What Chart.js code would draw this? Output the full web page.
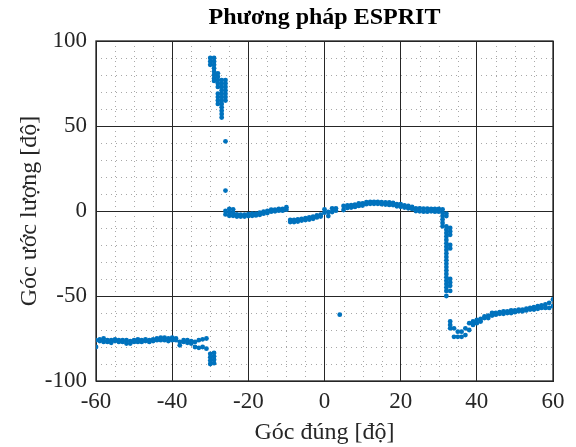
<!DOCTYPE html>
<html>
<head>
<meta charset="utf-8">
<script src="https://cdn.jsdelivr.net/npm/chart.js@4"></script>
<style>
  html, body { margin: 0; padding: 0; background: #fff; }
  #wrap { width: 576px; height: 447px; }
</style>
</head>
<body>
<div id="wrap"><canvas id="espritChart" width="576" height="447"></canvas></div>
<script>
// true angle (x) for each test position
const angles = [
  -60,-59,-58,-57,-56,-55,-54,-53,-52,-51,-50,-49,-48,-47,-46,-45,-44,-43,-42,-41,
  -40,-39,-38,-37,-36,-35,-34,-33,-32,-31,-30,-29,-28,-27,-26,-25,-24,-23,-22,-21,
  -20,-19,-18,-17,-16,-15,-14,-13,-12,-11,-10,-9,-8,-7,-6,-5,-4,-3,-2,-1,
  0,1,2,3,4,5,6,7,8,9,10,11,12,13,14,15,16,17,18,19,
  20,21,22,23,24,25,26,27,28,29,30,31,32,33,34,35,36,37,38,39,
  40,41,42,43,44,45,46,47,48,49,50,51,52,53,54,55,56,57,58,59,60
]

// estimated angle, run 1 (lower cluster) and run 2 (upper cluster)
const estRun1 = [
  -80,-76.5,-77,-77,-77.5,-76.5,-77,-77,-78,-78,-77,-77,-77,-76.5,-77,-76.5,-76,-76,-76,-76.5,
  -76,-76,-79,-77,-77.5,-78,-80,-80.5,-80,-81,
  -90,-89.5,63,55,-2,
  -2.8,-2.8,-3.3,-3.3,-3.3,-3,-2.8,-2.6,-2.2,-1.6,-1.2,-0.4,-0.2,0.2,0.2,0.8,
  -6.5,-6.5,-6.2,-5.6,-5.3,-5,-4.6,-3.8,-3.3,-1,-3,-0.6,0.2,
  -61,
  0.6,1.8,2,2.4,3,3.2,4,4.2,4.2,4.2,4,3.8,3.6,3.5,2.8,2.5,2,1.6,1.2,0,-0.2,-0.4,-0.4,-0.2,-0.4,-0.4,
  -9,-50,-47,
  -74,-74,-74,-73,-70,-67,-66,-65,-63,-63,-61.5,-61,-60.5,-60.5,-60,-60,-59.5,-59,-59,-58.5,
  -58,-58,-57.5,-57,-57,-57,-56
]
const estRun2 = [
  -76,-75.5,-75,-76,-76,-75.5,-76,-76,-76,-76.5,-76,-75.5,-76,-75.5,-76,-75.5,-75,-74.5,-74.5,-75,
  -74.5,-75,-77,-76,-76,-76.5,-77,-76,-75.5,-75,
  90,90,81,77,0,
  1.2,1,-2,-2.2,-2.2,-1.8,-1.6,-1.6,-1,-0.4,0,0.8,0.8,1.2,1.2,2.2,
  -5.3,-5.3,-5,-4.6,-4.2,-3.8,-3.3,-2.6,-2.2,1,-0.6,1.6,1.6,
  null,
  3,3.3,3.5,3.8,4.5,4.5,5.2,5.4,5.4,5.4,5.2,5,5,4.8,4,4,3.3,3,2.4,1.6,1.6,1.4,1.4,1.2,1.2,1.2,
  1,-9,-10,
  -69,-71,-71,-69,-66,-65,-64,-63.5,-62,-61.5,-60,-60,-59.5,-59,-59,-58.5,-58.5,-58,-58,-57.5,
  -57,-56.5,-56,-55.5,-55,-54,-52
]

// further estimates from the other runs where they spread out
const extraX = [
  -30,-30,-30,-30,-30,
  -29,-29,-29,-29,-29,-29,-29,-29,-29,-29,
  -28,-28,-28,-28,-28,-28,-28,
  -27,-27,-27,-27,-27,-27,-27,-27,-27,-27,
  -26,-26,-26,-26,-26,-26,-26,-26,-26,
  -25,-24,
  31,31,31,31,
  32,32,32,32,32,32,32,32,32,32,32,32,32,32,32,32,32,32,32,32,32,
  33,33,33,33,33,33,33,33,33,33
]
const extraY = [
  -88,-86,-84,88,86,
  -87.5,-85.5,-83.5,88,86,84,82,80,78,76.5,
  65,67,69,73,75,77,79,
  57,59,61,63,65,67,69,71,73,75,
  12,41,65,67,69,71,73,75,77,
  -0.8,-1,
  -1,-3,-5,-7,
  -1.5,-3,-11,-13,-15,-17,-19,-21,-23,-25,-27,-29,-31,-33,-35,-37,-39,-41,-43,-45,-47,
  -12,-14,-20,-22,-40,-42,-44,-65,-67,-69
]

const xMinor = [-55,-50,-45,-35,-30,-25,-15,-10,-5,5,10,15,25,30,35,45,50,55]
const yMinor = [-90,-80,-70,-60,-40,-30,-20,-10,10,20,30,40,60,70,80,90]

function toPoints(xs, ys) {
  const pts = []
  xs.forEach((x, i) => { if (ys[i] !== null) pts.push({ x: x, y: ys[i] }) })
  return pts
}

const axisColor = '#262626'
const serif = "'Liberation Serif', 'Times New Roman', serif"

// dotted minor grid + closed box like matlab
const minorGrid = {
  id: 'minorGrid',
  beforeDatasetsDraw(chart) {
    const { ctx, chartArea: a, scales: { x, y } } = chart
    ctx.save()
    ctx.strokeStyle = 'rgba(38,38,38,0.4)'
    ctx.lineWidth = 1
    ctx.setLineDash([1, 4])
    xMinor.forEach(v => {
      const px = Math.round(x.getPixelForValue(v)) + 0.5
      ctx.beginPath(); ctx.moveTo(px, a.top); ctx.lineTo(px, a.bottom); ctx.stroke()
    })
    yMinor.forEach(v => {
      const py = Math.round(y.getPixelForValue(v)) + 0.5
      ctx.beginPath(); ctx.moveTo(a.left, py); ctx.lineTo(a.right, py); ctx.stroke()
    })
    ctx.setLineDash([])
    ctx.strokeStyle = axisColor
    ctx.lineWidth = 1.3
    ctx.strokeRect(a.left, a.top, a.right - a.left, a.bottom - a.top)
    ctx.restore()
  }
}

const dotStyle = {
  backgroundColor: '#0072BD',
  borderColor: '#0072BD',
  borderWidth: 0,
  pointRadius: 2.4,
  pointHoverRadius: 2.4,
  showLine: false
}

var ctx = document.getElementById('espritChart').getContext('2d')
var chart = new Chart(ctx, {
  type: 'scatter',
  data: {
    datasets: [
      Object.assign({ label: 'run 1', data: toPoints(angles, estRun1) }, dotStyle),
      Object.assign({ label: 'run 2', data: toPoints(angles, estRun2) }, dotStyle),
      Object.assign({ label: 'other runs', data: toPoints(extraX, extraY) }, dotStyle)
    ]
  },
  options: {
    responsive: false,
    animation: false,
    layout: { padding: { left: 0, right: 23, top: 0, bottom: 0 } },
    plugins: {
      legend: { display: false },
      tooltip: { enabled: false },
      title: {
        display: true,
        fullSize: false,
        text: 'Phương pháp ESPRIT',
        color: '#000',
        font: { family: serif, size: 24, weight: 'bold', lineHeight: 1.2 },
        padding: { top: 3, bottom: 9.2 }
      }
    },
    scales: {
      x: {
        type: 'linear',
        min: -60,
        max: 60,
        afterFit: s => { s.height = 66 },
        ticks: { stepSize: 20, color: axisColor, padding: 7, font: { family: serif, size: 23 } },
        grid: { color: axisColor, lineWidth: 1, drawTicks: false },
        border: { display: true, color: axisColor, width: 1 },
        title: {
          display: true,
          text: 'Góc đúng [độ]',
          color: axisColor,
          font: { family: serif, size: 24, lineHeight: 1.2 },
          padding: { top: 0, bottom: 0 }
        }
      },
      y: {
        min: -100,
        max: 100,
        afterFit: s => { s.width = 96 },
        ticks: { stepSize: 50, color: axisColor, padding: 9, font: { family: serif, size: 23 } },
        grid: { color: axisColor, lineWidth: 1, drawTicks: false },
        border: { display: true, color: axisColor, width: 1 },
        title: {
          display: true,
          text: 'Góc ước lượng [độ]',
          color: axisColor,
          font: { family: serif, size: 24, lineHeight: 1.2 },
          padding: { top: 15, bottom: 0 }
        }
      }
    }
  },
  plugins: [minorGrid]
})
</script>
</body>
</html>
